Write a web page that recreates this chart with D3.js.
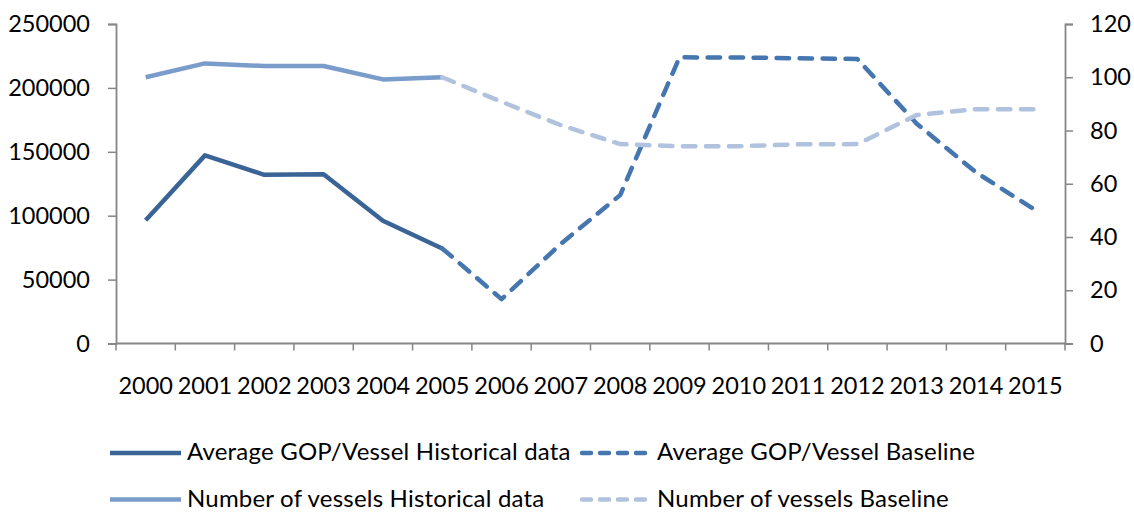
<!DOCTYPE html>
<html>
<head>
<meta charset="utf-8">
<script src="https://cdn.jsdelivr.net/npm/d3@7"></script>
<style>
  html, body { margin: 0; padding: 0; background: #fff; }
  svg { display: block; font-family: Lato, "Open Sans", sans-serif; }
</style>
</head>
<body>
<svg id="chart" width="1134" height="513"></svg>
<script>
// Years on the category axis
const years = ["2000","2001","2002","2003","2004","2005","2006","2007",
               "2008","2009","2010","2011","2012","2013","2014","2015"];

// Average GOP per vessel (left axis)
const gopHistorical = [96500, 147200, 132000, 132500, 96000, 74400,
                       null, null, null, null, null, null, null, null, null, null];
const gopBaseline   = [null, null, null, null, null, 74400,
                       34700, 78000, 116100, 223900, 223800, 223200, 222600, 172000, 133900, 104400];

// Number of vessels (right axis)
const vesselsHistorical = [100.0, 105.2, 104.2, 104.2, 99.2, 100.0,
                           null, null, null, null, null, null, null, null, null, null];
const vesselsBaseline   = [null, null, null, null, null, 100.0,
                           90.8, 82.0, 74.9, 74.1, 74.1, 74.8, 74.9, 85.8, 88.0, 88.0];

const leftTicks  = [0, 50000, 100000, 150000, 200000, 250000];
const rightTicks = [0, 20, 40, 60, 80, 100, 120];

const seriesInfo = [
  { name: "Average GOP/Vessel Historical data", values: gopHistorical,     axis: "left",  color: "#3a6496", dashed: false },
  { name: "Average GOP/Vessel Baseline",        values: gopBaseline,       axis: "left",  color: "#4676b0", dashed: true  },
  { name: "Number of vessels Historical data",  values: vesselsHistorical, axis: "right", color: "#7a9ccb", dashed: false },
  { name: "Number of vessels Baseline",         values: vesselsBaseline,   axis: "right", color: "#b0c2dd", dashed: true  }
];

const svg = d3.select("#chart");
const plot = { left: 116, right: 1065, top: 24, bottom: 343.5 };
const axisColor = "#868686";
const tickFont = 23.5;
const legendFont = 24;
const dash = "12.5,10.5";

const x = d3.scaleBand().domain(years).range([plot.left, plot.right]);
const yLeft  = d3.scaleLinear().domain([0, 250000]).range([plot.bottom, plot.top]);
const yRight = d3.scaleLinear().domain([0, 120]).range([plot.bottom, plot.top]);

// Left axis
const gLeft = svg.append("g")
  .attr("transform", `translate(${plot.left},0)`)
  .call(d3.axisLeft(yLeft).tickValues(leftTicks).tickFormat(d3.format("d")).tickSize(8).tickPadding(18));

// Right axis
const gRight = svg.append("g")
  .attr("transform", `translate(${plot.right},0)`)
  .call(d3.axisRight(yRight).tickValues(rightTicks).tickFormat(d3.format("d")).tickSize(8).tickPadding(17));

// Category axis with ticks on band boundaries
const gBottom = svg.append("g")
  .attr("transform", `translate(0,${plot.bottom})`)
  .call(d3.axisBottom(x).tickSize(0).tickPadding(33.5));

const boundaries = years.map(y => x(y)).concat([x.range()[1]]);
gBottom.selectAll("line.band-tick")
  .data(boundaries)
  .join("line")
  .attr("class", "band-tick")
  .attr("x1", d => d).attr("x2", d => d)
  .attr("y1", 0).attr("y2", 7)
  .attr("stroke", axisColor).attr("stroke-width", 1.5);

[gLeft, gRight, gBottom].forEach(g => {
  g.select(".domain").attr("stroke", axisColor).attr("stroke-width", 1.8);
  g.selectAll(".tick line").attr("stroke", axisColor).attr("stroke-width", 1.5);
  g.selectAll("text")
    .attr("fill", "#000")
    .style("font-size", tickFont + "px")
    .style("font-family", "Lato, 'Open Sans', sans-serif");
});
gBottom.select(".domain").attr("d", `M${plot.left},0H${plot.right}`);

// Series lines
const xc = d => x(d) + x.bandwidth() / 2;
seriesInfo.forEach(s => {
  const yScale = s.axis === "left" ? yLeft : yRight;
  const line = d3.line()
    .defined(d => d.v !== null)
    .x(d => xc(d.year))
    .y(d => yScale(d.v));
  const pts = years.map((year, i) => ({ year, v: s.values[i] }));
  svg.append("path")
    .datum(pts)
    .attr("d", line)
    .attr("fill", "none")
    .attr("stroke", s.color)
    .attr("stroke-width", 4.5)
    .attr("stroke-linejoin", "round")
    .attr("stroke-linecap", s.dashed ? "round" : "butt")
    .attr("stroke-dasharray", s.dashed ? dash : null);
});

// Legend: two columns, two rows
const legendPos = [
  { x: 110, y: 453 }, { x: 580, y: 453 },
  { x: 110, y: 499.5 }, { x: 580, y: 499.5 }
];
const legend = svg.append("g");
seriesInfo.forEach((s, i) => {
  const p = legendPos[i];
  const g = legend.append("g").attr("transform", `translate(${p.x},${p.y})`);
  g.append("line")
    .attr("x1", s.dashed ? 2 : 0).attr("x2", s.dashed ? 68 : 71)
    .attr("y1", 0).attr("y2", 0)
    .attr("stroke", s.color)
    .attr("stroke-width", 4.5)
    .attr("stroke-linecap", s.dashed ? "round" : "butt")
    .attr("stroke-dasharray", s.dashed ? "9,9" : null);
  g.append("text")
    .attr("x", 77).attr("y", 0)
    .attr("dy", "0.3em")
    .style("font-size", legendFont + "px")
    .style("letter-spacing", "0.2px")
    .attr("fill", "#000")
    .text(s.name);
});
</script>
</body>
</html>
